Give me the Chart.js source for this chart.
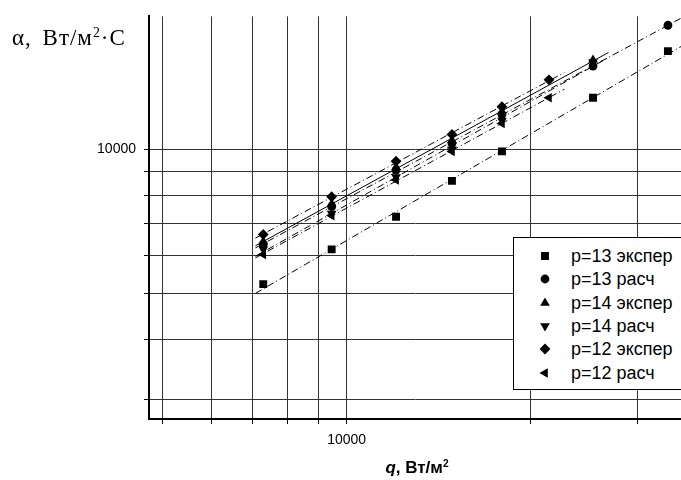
<!DOCTYPE html>
<html>
<head>
<meta charset="utf-8">
<script src="https://cdn.jsdelivr.net/npm/chart.js@4/dist/chart.umd.min.js"></script>
<style>
  body { margin: 0; background: #fff; }
  #wrap { position: relative; width: 681px; height: 480px; overflow: hidden; }
  #chart { position: absolute; left: 0; top: 0; }
  .ytitle { position: absolute; left: 12px; top: 26px; font-family: "Times New Roman", "Liberation Serif", serif; font-size: 23px; line-height: 23px; letter-spacing: 1px; word-spacing: 4px; white-space: nowrap; }
  .ytitle sup, .xtitle sup { font-size: 60%; vertical-align: 0; position: relative; top: -0.6em; }
  .xtitle { position: absolute; left: 0; width: 834px; text-align: center; top: 459px; font-family: Arial, "Liberation Sans", sans-serif; font-weight: bold; font-size: 17px; line-height: 17px; white-space: nowrap; }
  .legend { position: absolute; left: 513px; top: 237px; width: 170px; height: 151px; border: 1px solid #000; background: #fff; font-family: Arial, "Liberation Sans", sans-serif; font-size: 18px; }
  .legend .row { position: absolute; left: 0; height: 20px; line-height: 20px; white-space: nowrap; }
  .legend canvas { position: absolute; left: 23px; top: 2px; }
  .legend span { position: absolute; left: 57px; top: 0; }
</style>
</head>
<body>
<div id="wrap">
  <canvas id="chart" width="681" height="480"></canvas>
  <div class="ytitle">α, Вт/м<sup>2</sup>·С</div>
  <div class="xtitle"><i>q</i>, Вт/м<sup>2</sup></div>
  <div class="legend" id="legend"></div>
</div>
<script>
// heat flux q, W/m2
const qExp13  = [7300, 9450, 12050, 14880, 17970, 25340, 33620];
const qCalc13 = [7300, 9450, 12050, 14880, 17970, 25340, 33620];
const qExp14  = [7300, 9450, 12050, 14880, 17970, 25340];
const qCalc14 = [7300, 9450, 12050, 14880, 17970, 25340];
const qExp12  = [7300, 9450, 12050, 14880, 17970, 21460];
const qCalc12 = [7300, 9450, 12050, 14880, 17970, 21460];

// heat transfer coefficient alpha, W/m2*C
const aExp13  = [5230, 6180, 7230, 8590, 9900, 12810, 16030];
const aCalc13 = [6330, 7590, 9050, 10290, 11820, 14920, 18150];
const aExp14  = [6420, 7690, 9180, 10440, 11990, 15360];
const aCalc14 = [6180, 7340, 8750, 10000, 11480, 15210];
const aExp12  = [6640, 7960, 9440, 10740, 12270, 13960];
const aCalc12 = [6030, 7270, 8630, 9900, 11320, 12810];

const seriesNames = ['p=13 экспер', 'p=13 расч', 'p=14 экспер', 'p=14 расч', 'p=12 экспер', 'p=12 расч'];

const xTicks = [5000, 6000, 7000, 8000, 9000, 10000, 20000, 30000];
const yTicks = [3000, 4000, 5000, 6000, 7000, 8000, 9000, 10000];
const xLabelled = [10000];
const yLabelled = [10000];

const FONT = 'Arial, "Liberation Sans", sans-serif';

const markers = [
  { pointStyle: 'rect', radius: 5.6, rotation: 0 },
  { pointStyle: 'circle', radius: 4.4, rotation: 0 },
  { pointStyle: 'triangle', radius: 5.6, rotation: 0 },
  { pointStyle: 'triangle', radius: 5.6, rotation: 180 },
  { pointStyle: 'rectRot', radius: 5.4, rotation: 0 },
  { pointStyle: 'triangle', radius: 5.6, rotation: -90 },
];

const series = [
  [qExp13, aExp13], [qCalc13, aCalc13], [qExp14, aExp14],
  [qCalc14, aCalc14], [qExp12, aExp12], [qCalc12, aCalc12],
];

// power-law fit  alpha = C * q^n  (least squares in log-log)
function fitLine(qs, as) {
  const lx = qs.map(Math.log10), ly = as.map(Math.log10);
  const n = lx.length;
  const mx = lx.reduce((s, v) => s + v, 0) / n, my = ly.reduce((s, v) => s + v, 0) / n;
  let sxy = 0, sxx = 0;
  for (let i = 0; i < n; i++) { sxy += (lx[i] - mx) * (ly[i] - my); sxx += (lx[i] - mx) ** 2; }
  const b = sxy / sxx, a = my - b * mx;
  const q0 = Math.min(...qs) / 1.03, q1 = Math.max(...qs) * 1.06;
  return [q0, q1].map(q => ({ x: q, y: Math.pow(10, a + b * Math.log10(q)) }));
}

const datasets = [];
series.forEach(([qs, as], i) => {
  datasets.push({
    label: seriesNames[i] + ' fit',
    data: fitLine(qs, as),
    showLine: true,
    borderColor: '#000',
    borderWidth: 1,
    borderDash: i === 2 ? [] : [7, 3, 1, 3],
    pointRadius: 0,
    order: 2
  });
});
series.forEach(([qs, as], i) => {
  datasets.push({
    label: seriesNames[i],
    data: qs.map((q, k) => ({ x: q, y: as[k] })),
    showLine: false,
    pointStyle: markers[i].pointStyle,
    pointRadius: markers[i].radius,
    pointRotation: markers[i].rotation,
    backgroundColor: '#000',
    borderColor: '#000',
    borderWidth: 0,
    order: 1
  });
});

new Chart(document.getElementById('chart'), {
  type: 'scatter',
  data: { datasets },
  options: {
    responsive: false,
    animation: false,
    devicePixelRatio: 1,
    layout: { autoPadding: false, padding: { top: 13, left: 0, right: 0, bottom: 0 } },
    plugins: { legend: { display: false }, tooltip: { enabled: false } },
    scales: {
      x: {
        type: 'logarithmic',
        min: 4743, max: 35320,
        afterBuildTicks: s => { s.ticks = xTicks.map(v => ({ value: v })); },
        afterFit: s => { s.height = 61; },
        ticks: { color: '#000', font: { family: FONT, size: 14 }, padding: 8, maxRotation: 0, autoSkip: false,
                 callback: v => xLabelled.includes(v) ? String(v) : '' },
        grid: { color: '#333', lineWidth: 1, tickLength: 5, tickColor: '#000' },
        border: { color: '#000', width: 2 }
      },
      y: {
        type: 'logarithmic',
        min: 2735, max: 18940,
        afterBuildTicks: s => { s.ticks = yTicks.map(v => ({ value: v })); },
        afterFit: s => { s.width = 149; },
        ticks: { color: '#000', font: { family: FONT, size: 14 }, padding: 8, autoSkip: false,
                 callback: v => yLabelled.includes(v) ? String(v) : '' },
        grid: { color: '#333', lineWidth: 1, tickLength: 5, tickColor: '#000' },
        border: { color: '#000', width: 2 }
      }
    }
  }
});

// legend
const legend = document.getElementById('legend');
seriesNames.forEach((name, i) => {
  const row = document.createElement('div');
  row.className = 'row';
  row.style.top = (8 + i * 23.3) + 'px';
  const c = document.createElement('canvas');
  c.width = 16; c.height = 16;
  const ctx = c.getContext('2d');
  ctx.fillStyle = '#000'; ctx.strokeStyle = '#000';
  Chart.helpers.drawPoint(ctx, { pointStyle: markers[i].pointStyle, radius: markers[i].radius, rotation: markers[i].rotation, borderWidth: 0 }, 8, 8);
  const t = document.createElement('span');
  t.textContent = name;
  row.appendChild(c); row.appendChild(t);
  legend.appendChild(row);
});
</script>
</body>
</html>
